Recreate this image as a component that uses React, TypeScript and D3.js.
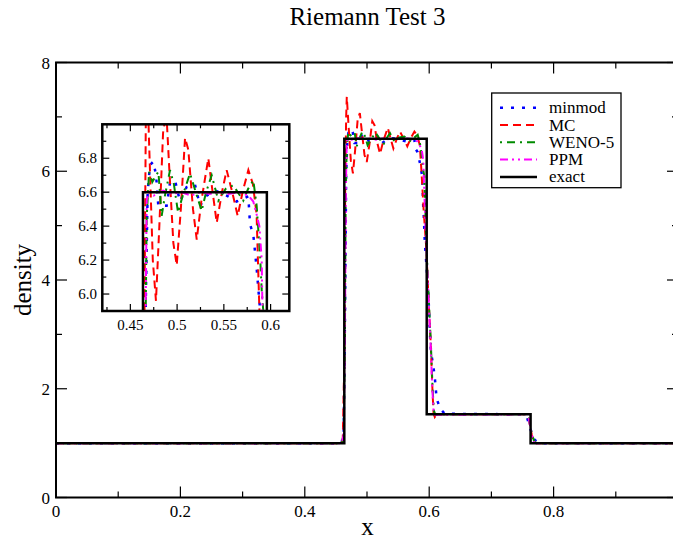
import React from 'react';
import * as d3 from 'd3';

// ---------- data ----------
const chartTitle = 'Riemann Test 3';
const xLabel = 'x';
const yLabel = 'density';
const xTickLabels = [0, 0.2, 0.4, 0.6, 0.8];
const yTickLabels = [0, 2, 4, 6, 8];
const insetXTickLabels = [0.45, 0.5, 0.55, 0.6];
const insetYTickLabels = [6, 6.2, 6.4, 6.6, 6.8];
const seriesNames = ['minmod', 'MC', 'WENO-5', 'PPM', 'exact'];

const minmodX = [0, 0.459, 0.4625, 0.4648, 0.4665, 0.4685, 0.471, 0.4746, 0.4775, 0.4799, 0.4888, 0.4924, 0.4978, 0.5031, 0.5102, 0.5191, 0.5245, 0.5316, 0.5423, 0.553, 0.5637, 0.5762, 0.578, 0.5815, 0.5833, 0.5851, 0.5869, 0.5887, 0.5905, 0.5916, 0.5922, 0.593, 0.596, 0.599, 0.601, 0.603, 0.6066, 0.609, 0.612, 0.6185, 0.625, 0.75, 0.757, 0.763, 0.768, 0.775, 0.78, 1];
const minmodY = [1, 1, 1.2, 3.5, 5.95, 6.6, 6.76, 6.78, 6.7, 6.52, 6.52, 6.655, 6.67, 6.545, 6.63, 6.645, 6.52, 6.58, 6.606, 6.58, 6.545, 6.575, 6.41, 6.35, 6.25, 6.15, 6.03, 5.91, 5.32, 5.1, 4.89, 4.69, 4.2, 3.66, 3.05, 2.66, 2.42, 2.21, 1.81, 1.62, 1.54, 1.53, 1.48, 1.25, 1.08, 1.01, 1, 1];

const mcX = [0, 0.458, 0.461, 0.4635, 0.465, 0.4665, 0.4675, 0.47, 0.474, 0.4774, 0.481, 0.485, 0.4885, 0.492, 0.496, 0.4996, 0.504, 0.5085, 0.512, 0.517, 0.521, 0.526, 0.5334, 0.538, 0.5424, 0.548, 0.553, 0.559, 0.5648, 0.57, 0.5762, 0.581, 0.585, 0.588, 0.591, 0.5955, 0.599, 0.6024, 0.6055, 0.607, 0.609, 0.612, 0.755, 0.76, 0.765, 0.769, 0.772, 1];
const mcY = [1, 1, 1.05, 2.5, 5.8, 7.0, 7.37, 6.9, 6.2, 5.96, 6.4, 6.95, 7.07, 6.7, 6.3, 6.17, 6.5, 6.92, 6.85, 6.5, 6.32, 6.55, 6.8, 6.6, 6.42, 6.6, 6.73, 6.6, 6.46, 6.6, 6.73, 6.65, 6.47, 5.91, 5.3, 4.55, 3.63, 2.84, 1.9, 1.55, 1.48, 1.53, 1.53, 1.45, 1.15, 1.02, 1, 1];

const wenoX = [0, 0.459, 0.4625, 0.4645, 0.4657, 0.4675, 0.47, 0.4735, 0.4775, 0.48, 0.4835, 0.487, 0.4924, 0.4965, 0.501, 0.506, 0.5138, 0.52, 0.5263, 0.531, 0.537, 0.5441, 0.552, 0.5601, 0.5708, 0.576, 0.5815, 0.5851, 0.5887, 0.5904, 0.5922, 0.5955, 0.599, 0.6024, 0.6055, 0.6075, 0.61, 0.613, 0.755, 0.76, 0.765, 0.769, 0.773, 1];
const wenoY = [1, 1, 1.15, 3.0, 5.5, 6.45, 6.72, 6.66, 6.7, 6.72, 6.46, 6.58, 6.73, 6.65, 6.48, 6.58, 6.71, 6.6, 6.49, 6.6, 6.7, 6.55, 6.62, 6.64, 6.55, 6.62, 6.67, 6.52, 6.23, 6.03, 5.9, 4.7, 3.7, 2.9, 2.0, 1.6, 1.52, 1.53, 1.53, 1.45, 1.17, 1.03, 1, 1];

const ppmX = [0, 0.459, 0.4625, 0.4645, 0.4662, 0.4675, 0.469, 0.475, 0.485, 0.495, 0.505, 0.515, 0.525, 0.535, 0.545, 0.555, 0.565, 0.5762, 0.5815, 0.585, 0.588, 0.5905, 0.5913, 0.594, 0.598, 0.602, 0.605, 0.607, 0.609, 0.755, 0.76, 0.765, 0.768, 0.772, 1];
const ppmY = [1, 1, 1.15, 3.0, 5.8, 6.55, 6.6, 6.58, 6.61, 6.59, 6.6, 6.58, 6.6, 6.59, 6.6, 6.59, 6.6, 6.58, 6.545, 6.47, 6.4, 6.2, 5.9, 5.0, 3.9, 2.9, 2.0, 1.6, 1.52, 1.53, 1.46, 1.15, 1.02, 1, 1];

const exactX = [0, 0.4635, 0.4635, 0.596, 0.596, 0.763, 0.763, 1];
const exactY = [1, 1, 6.6, 6.6, 1.53, 1.53, 1, 1];

const seriesX = [minmodX, mcX, wenoX, ppmX, exactX];
const seriesY = [minmodY, mcY, wenoY, ppmY, exactY];

// ---------- styles ----------
const seriesStyles = [
  { color: '#0000ff', dash: '3 8', width: 2.5 },
  { color: '#ff0000', dash: '8 5', width: 2 },
  { color: '#008b00', dash: '2 5 8 5', width: 2 },
  { color: '#ff00ff', dash: '8 4 2 4 2 4', width: 2 },
  { color: '#000000', dash: 'none', width: 2.5 },
];

const FONT = 'Liberation Serif';
const W = 673;
const H = 542;

export default function App() {
  const x = d3.scaleLinear().domain([0, 1]).range([56, 678]);
  const y = d3.scaleLinear().domain([0, 8]).range([497.5, 62.5]);
  const ix = d3.scaleLinear().domain([0.42, 0.62]).range([102.3, 289.3]);
  const iy = d3.scaleLinear().domain([5.9, 7.0]).range([311, 124.3]);

  const mkLine = (sx: any, sy: any) =>
    d3.line<[number, number]>().x((d) => sx(d[0])).y((d) => sy(d[1]));
  const mainLine = mkLine(x, y);
  const insetLine = mkLine(ix, iy);
  const pts = (i: number) => seriesX[i].map((v, k) => [v, seriesY[i][k]] as [number, number]);

  const [x0, x1] = x.range();
  const [y0, y1] = y.range();
  const xAll = d3.range(0, 11).map((k) => k / 10);
  const yAll = d3.range(0, 9);

  const [ix0, ix1] = ix.range();
  const [iy0, iy1] = iy.range();
  const ixAll = d3.range(0, 8).map((k) => 0.425 + k * 0.025);
  const iyAll = d3.range(0, 10).map((k) => 6 + k * 0.1);

  const legendX = 491.7;
  const legendY = 93;
  const legendRowH = 17.3;
  const tf = { fontFamily: FONT };

  return (
    <svg width={W} height={H} style={{ position: 'absolute', left: 0, top: 0, background: '#fff' }}>
      <rect x={0} y={0} width={W} height={H} fill="#fff" />
      <defs>
        <clipPath id="mainClip">
          <rect x={x0} y={y1} width={x1 - x0} height={y0 - y1} />
        </clipPath>
        <clipPath id="insetClip">
          <rect x={ix0} y={iy1} width={ix1 - ix0} height={iy0 - iy1} />
        </clipPath>
      </defs>

      {/* title */}
      <text x={367.5} y={25} textAnchor="middle" fontSize={25} style={tf}>{chartTitle}</text>

      {/* main curves */}
      <g clipPath="url(#mainClip)">
        {seriesNames.map((n, i) => (
          <path key={n} d={mainLine(pts(i)) || ''} fill="none" stroke={seriesStyles[i].color}
            strokeWidth={seriesStyles[i].width} strokeDasharray={seriesStyles[i].dash} strokeLinejoin="miter" />
        ))}
      </g>

      {/* main frame */}
      <rect x={x0} y={y1} width={x1 - x0} height={y0 - y1} fill="none" stroke="#000" strokeWidth={2} />
      {xAll.map((t, k) => {
        const len = k % 2 === 0 ? 11 : 6;
        return (
          <g key={'xt' + k}>
            <line x1={x(t)} x2={x(t)} y1={y0} y2={y0 - len} stroke="#000" strokeWidth={1.2} />
            <line x1={x(t)} x2={x(t)} y1={y1} y2={y1 + len} stroke="#000" strokeWidth={1.2} />
          </g>
        );
      })}
      {yAll.map((t, k) => {
        const len = k % 2 === 0 ? 11 : 6;
        return (
          <g key={'yt' + k}>
            <line x1={x0} x2={x0 + len} y1={y(t)} y2={y(t)} stroke="#000" strokeWidth={1.2} />
            <line x1={x1} x2={x1 - len} y1={y(t)} y2={y(t)} stroke="#000" strokeWidth={1.2} />
          </g>
        );
      })}
      {xTickLabels.map((t) => (
        <text key={'xl' + t} x={x(t)} y={516.5} textAnchor="middle" fontSize={17} style={tf}>{String(t)}</text>
      ))}
      {yTickLabels.map((t) => (
        <text key={'yl' + t} x={50} y={y(t) + 6} textAnchor="end" fontSize={17} style={tf}>{String(t)}</text>
      ))}
      <text x={367.5} y={535} textAnchor="middle" fontSize={25} style={tf}>{xLabel}</text>
      <text transform={`translate(31,${(y0 + y1) / 2}) rotate(-90)`} textAnchor="middle" fontSize={25} style={tf}>{yLabel}</text>

      {/* legend */}
      <rect x={legendX} y={legendY} width={621 - legendX} height={187.7 - legendY} fill="#fff" stroke="#000" strokeWidth={1.3} />
      {seriesNames.map((n, i) => {
        const ly = legendY + 14.7 + i * legendRowH;
        return (
          <g key={'lg' + n}>
            <line x1={500} x2={537} y1={ly} y2={ly} stroke={seriesStyles[i].color}
              strokeWidth={seriesStyles[i].width} strokeDasharray={seriesStyles[i].dash} />
            <text x={549} y={ly + 5.5} fontSize={17} style={tf}>{n}</text>
          </g>
        );
      })}

      {/* inset */}
      <rect x={ix0} y={iy1} width={ix1 - ix0} height={iy0 - iy1} fill="#fff" />
      <g clipPath="url(#insetClip)">
        {seriesNames.map((n, i) => (
          <path key={'in' + n} d={insetLine(pts(i)) || ''} fill="none" stroke={seriesStyles[i].color}
            strokeWidth={seriesStyles[i].width} strokeDasharray={seriesStyles[i].dash} strokeLinejoin="miter" />
        ))}
      </g>
      <rect x={ix0} y={iy1} width={ix1 - ix0} height={iy0 - iy1} fill="none" stroke="#000" strokeWidth={2.5} />
      {ixAll.map((t, k) => {
        const len = k % 2 === 1 ? 7 : 4;
        return (
          <g key={'ixt' + k}>
            <line x1={ix(t)} x2={ix(t)} y1={iy0} y2={iy0 - len} stroke="#000" strokeWidth={1.2} />
            <line x1={ix(t)} x2={ix(t)} y1={iy1} y2={iy1 + len} stroke="#000" strokeWidth={1.2} />
          </g>
        );
      })}
      {iyAll.map((t, k) => {
        const len = k % 2 === 0 ? 7 : 4;
        return (
          <g key={'iyt' + k}>
            <line x1={ix0} x2={ix0 + len} y1={iy(t)} y2={iy(t)} stroke="#000" strokeWidth={1.2} />
            <line x1={ix1} x2={ix1 - len} y1={iy(t)} y2={iy(t)} stroke="#000" strokeWidth={1.2} />
          </g>
        );
      })}
      {insetXTickLabels.map((t) => (
        <text key={'ixl' + t} x={ix(t)} y={330} textAnchor="middle" fontSize={15} style={tf}>{String(t)}</text>
      ))}
      {insetYTickLabels.map((t) => (
        <text key={'iyl' + t} x={97} y={iy(t) + 5} textAnchor="end" fontSize={15} style={tf}>{t.toFixed(1)}</text>
      ))}
    </svg>
  );
}
